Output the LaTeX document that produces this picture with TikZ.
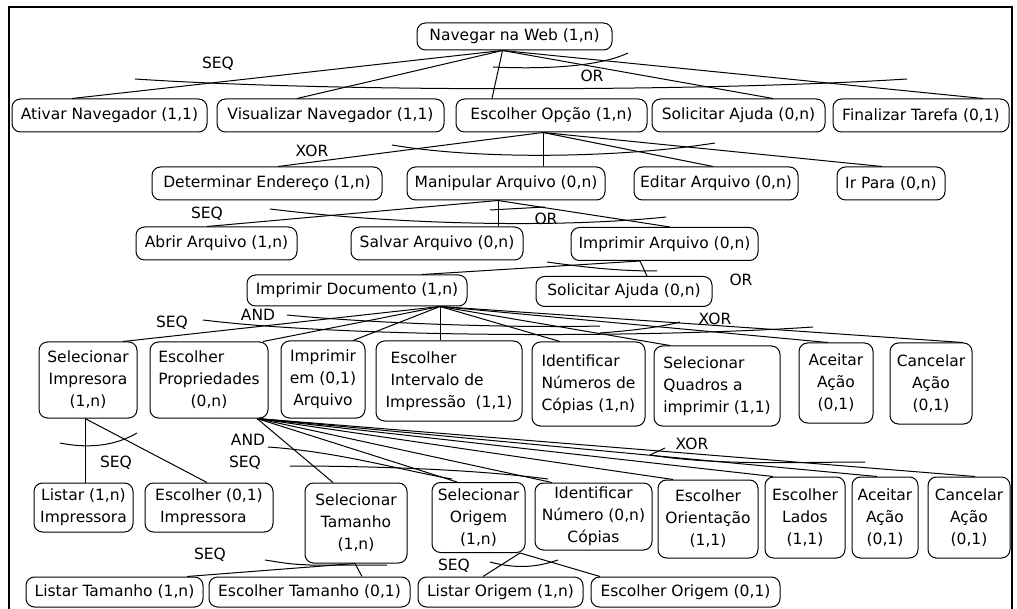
\documentclass[tikz,border=0pt]{standalone}
\usepackage{fontspec}
\setmainfont{DejaVu Sans}
\begin{document}
\begin{tikzpicture}[x=1pt,y=-1pt,
  every node/.style={font=\fontsize{15.5}{22}\selectfont},
  box/.style={draw, rounded corners=8.5pt, line width=1pt, inner sep=0pt, align=center},
  lbox/.style={box, align=left},
  link/.style={line width=1pt},
  arcmark/.style={line width=1pt},
  lbl/.style={inner sep=0pt}
]
\useasboundingbox (0,0) rectangle (1017,609);
% outer frame (open at the bottom)
\draw[line width=1.6pt] (9,609) -- (9,7) -- (1012,7) -- (1012,609);

% ---- level 1
\node[box, minimum width=195pt, minimum height=27pt] (nav) at (514.5,36.5) {Navegar na Web (1,n)};

% ---- level 2
\node[box, minimum width=195pt, minimum height=33pt] (ativ) at (109.5,115.5) {Ativar Navegador (1,1)};
\node[box, minimum width=227pt, minimum height=33pt] (visu) at (330.5,115.5) {Visualizar Navegador (1,1)};
\node[box, minimum width=191pt, minimum height=33pt] (esco) at (551.5,115.5) {Escolher Opção (1,n)};
\node[box, minimum width=173pt, minimum height=33pt] (solA) at (738.5,115.5) {Solicitar Ajuda (0,n)};
\node[box, minimum width=176pt, minimum height=33pt] (fina) at (921,115.5) {Finalizar Tarefa (0,1)};

% ---- level 3
\node[box, minimum width=230pt, minimum height=33pt] (dete) at (267,183.5) {Determinar Endereço (1,n)};
\node[box, minimum width=198pt, minimum height=33pt] (mani) at (506,183.5) {Manipular Arquivo (0,n)};
\node[box, minimum width=164pt, minimum height=33pt] (edit) at (716,183.5) {Editar Arquivo (0,n)};
\node[box, minimum width=108pt, minimum height=33pt] (irpa) at (891,183.5) {Ir Para (0,n)};

% ---- level 4
\node[box, minimum width=161pt, minimum height=33pt] (abri) at (216.5,243.5) {Abrir Arquivo (1,n)};
\node[box, minimum width=172pt, minimum height=33pt] (salv) at (437,243.5) {Salvar Arquivo (0,n)};
\node[box, minimum width=187pt, minimum height=33pt] (impa) at (664.5,244) {Imprimir Arquivo (0,n)};

% ---- level 5
\node[box, minimum width=220pt, minimum height=31pt] (impd) at (357,290.5) {Imprimir Documento (1,n)};
\node[box, minimum width=176pt, minimum height=30pt] (solB) at (624,291.5) {Solicitar Ajuda (0,n)};

% ---- level 6
\node[box, minimum width=98pt, minimum height=76pt] (seli) at (88,380) {Selecionar\\Impresora\\(1,n)};
\node[box, minimum width=118pt, minimum height=76pt] (espr) at (209,380)
  {\begin{tabular}{@{}l@{}}Escolher\\Propriedades\\\multicolumn{1}{@{}c@{}}{(0,n)}\end{tabular}};
\node[box, minimum width=84pt, minimum height=77pt] (imem) at (323,379.5) {Imprimir\\em (0,1)\\Arquivo};
\node[lbox, minimum width=146pt, minimum height=80pt] (esin) at (449,381) {\ Escolher\\\ Intervalo de\\Impressão\ \ (1,1)};
\node[lbox, minimum width=113pt, minimum height=84pt] (idnu) at (588.5,384) {Identificar\\Números de\\Cópias (1,n)};
\node[lbox, minimum width=126pt, minimum height=80pt] (selq) at (717,386) {Selecionar\\Quadros a\\imprimir (1,1)};
\node[box, minimum width=74pt, minimum height=80pt] (aceA) at (836,383) {Aceitar\\Ação\\(0,1)};
\node[box, minimum width=82pt, minimum height=81pt] (canA) at (931,383.5) {Cancelar\\Ação\\(0,1)};

% ---- level 7
\node[box, minimum width=99pt, minimum height=49pt] (lisi) at (83.5,507.5) {Listar (1,n)\\Impressora};
\node[lbox, minimum width=128pt, minimum height=49pt] (esim) at (209,507.5) {Escolher (0,1)\\\ Impressora};
\node[box, minimum width=102pt, minimum height=80pt] (selt) at (356,523) {Selecionar\\Tamanho\\(1,n)};
\node[box, minimum width=93pt, minimum height=70pt] (selo) at (478.5,517.5) {Selecionar\\Origem\hspace{14pt}\\(1,n)\hspace{14pt}};
\node[box, minimum width=117pt, minimum height=67pt] (idnb) at (593.5,516.5) {Identificar\\Número (0,n)\\Cópias};
\node[box, minimum width=100pt, minimum height=78pt] (esor) at (708,519) {Escolher\\Orientação\\(1,1)};
\node[box, minimum width=80pt, minimum height=81pt] (esla) at (805,517.5) {Escolher\\Lados\\(1,1)};
\node[box, minimum width=66pt, minimum height=81pt] (aceB) at (885,517.5) {Aceitar\\Ação\\(0,1)};
\node[box, minimum width=82pt, minimum height=81pt] (canB) at (969,517.5) {Cancelar\\Ação\\(0,1)};

% ---- level 8
\node[box, minimum width=177pt, minimum height=30pt] (lita) at (114.5,592) {Listar Tamanho (1,n)};
\node[box, minimum width=201pt, minimum height=30pt] (esta) at (309.5,592) {Escolher Tamanho (0,1)};
\node[box, minimum width=165pt, minimum height=30pt] (lior) at (500.5,592) {Listar Origem (1,n)};
\node[box, minimum width=189pt, minimum height=30pt] (esoo) at (685.5,592) {Escolher Origem (0,1)};

% ---- fan origins
\coordinate (o1) at ([xshift=-12pt]nav.south);
\coordinate (o2) at ([xshift=-8.5pt]esco.south);
\coordinate (o3) at ([xshift=-8pt]mani.south);
\coordinate (o4) at ([xshift=-24.5pt]impa.south);
\coordinate (o5) at ([xshift=83pt]impd.south);
\coordinate (o6) at ([xshift=-3pt]seli.south);
\coordinate (o7) at ([xshift=48pt]espr.south);
\coordinate (o8) at ([xshift=-1pt]selt.south);
\coordinate (o9) at ([xshift=41.5pt]selo.south);

% ---- connectors
\draw[link] (o1) -- ([xshift=-37.5pt]ativ.north);
\draw[link] (o1) -- ([xshift=-33.5pt]visu.north);
\draw[link] (o1) -- ([xshift=-59.5pt]esco.north);
\draw[link] (o1) -- ([xshift=34.5pt]solA.north);
\draw[link] (o1) -- ([xshift=62pt]fina.north);

\draw[link] (o2) -- ([xshift=11pt]dete.north);
\draw[link] (o2) -- ([xshift=37pt]mani.north);
\draw[link] (o2) -- ([xshift=-3pt]edit.north);
\draw[link] (o2) -- ([xshift=-9pt]irpa.north);

\draw[link] (o3) -- ([xshift=-9.5pt]abri.north);
\draw[link] (o3) -- ([xshift=61pt]salv.north);
\draw[link] (o3) -- ([xshift=5.5pt]impa.north);

\draw[link] (o4) -- ([xshift=65pt]impd.north);
\draw[link] (o4) -- ([xshift=23pt]solB.north);

\draw[link] (o5) -- ([xshift=35pt]seli.north);
\draw[link] (o5) -- ([xshift=54pt]espr.north);
\draw[link] (o5) -- ([xshift=30pt]imem.north);
\draw[link] (o5) -- ([xshift=-9pt]esin.north);
\draw[link] (o5) -- ([xshift=-28.5pt]idnu.north);
\draw[link] (o5) -- ([xshift=-47pt]selq.north);
\draw[link] (o5) -- ([xshift=-8pt]aceA.north);
\draw[link] (o5) -- ([xshift=32pt]canA.north);

\draw[link] (o6) -- ([xshift=1.5pt]lisi.north);
\draw[link] (o6) -- ([xshift=-2pt]esim.north);

\draw[link] (o7) -- ([xshift=-23pt]selt.north);
\draw[link] (o7) -- ([xshift=-21.5pt]selo.north);
\draw[link] (o7) -- ([xshift=-41.5pt]idnb.north);
\draw[link] (o7) -- ([xshift=-35pt]esor.north);
\draw[link] (o7) -- ([xshift=-32pt]esla.north);
\draw[link] (o7) -- ([xshift=-8pt]aceB.north);
\draw[link] (o7) -- ([xshift=6pt]canB.north);

\draw[link] (o8) -- ([xshift=72.5pt]lita.north);
\draw[link] (o8) -- ([xshift=52.5pt]esta.north);

\draw[link] (o9) -- ([xshift=-17.5pt]lior.north);
\draw[link] (o9) -- ([xshift=-85.5pt]esoo.north);

% ---- constraint arcs across the connectors
\draw[arcmark] (135,79) .. controls (330,92) and (700,92) .. (907,79);
\draw[arcmark] (493,67) .. controls (560,70) and (605,64) .. (628,53);
\draw[arcmark] (392,145) .. controls (480,160) and (620,158) .. (715,143);
\draw[arcmark] (270,209) .. controls (400,225) and (560,228) .. (666,217);
\draw[arcmark] (490,210) -- (545,207);
\draw[arcmark] (547,262) .. controls (590,268) and (620,271) .. (657,271);
\draw[arcmark] (203,320) .. controls (350,338) and (650,338) .. (813,327);
\draw[arcmark] (287,315) .. controls (380,324) and (520,328) .. (600,326);
\draw[arcmark] (600,333) .. controls (640,330) and (665,326) .. (680,322);
\draw[arcmark] (60,443) .. controls (95,450) and (120,443) .. (137,433);
\draw[arcmark] (268,447) .. controls (340,452) and (400,470) .. (452,479);
\draw[arcmark] (290,466) .. controls (380,466) and (480,470) .. (548,479);
\draw[arcmark] (650,455) -- (665,448);
\draw[arcmark] (650,455) .. controls (720,466) and (800,462) .. (865,462);
\draw[arcmark] (265,560) .. controls (290,564) .. (310,565) -- (387,565);
\draw[arcmark] (490,562) .. controls (520,570) and (540,566) .. (558,560);

% ---- constraint labels
\node[lbl] (l1) at (218,64) {SEQ};
\node[lbl] (l2) at (592,76) {OR};
\node[lbl] (l3) at (312,151) {XOR};
\node[lbl] (l4) at (207,214) {SEQ};
\node[lbl] (l5) at (546,219) {OR};
\node[lbl] (l6) at (741,280) {OR};
\node[lbl] (l7) at (172,323) {SEQ};
\node[lbl] (l8) at (258,315) {AND};
\node[lbl] (l9) at (715,319) {XOR};
\node[lbl] (l10) at (116,463) {SEQ};
\node[lbl] (l11) at (248,440) {AND};
\node[lbl] (l12) at (245,463) {SEQ};
\node[lbl] (l13) at (692,444) {XOR};
\node[lbl] (l14) at (210,555) {SEQ};
\node[lbl] (l15) at (454,566) {SEQ};
\end{tikzpicture}
\end{document}
